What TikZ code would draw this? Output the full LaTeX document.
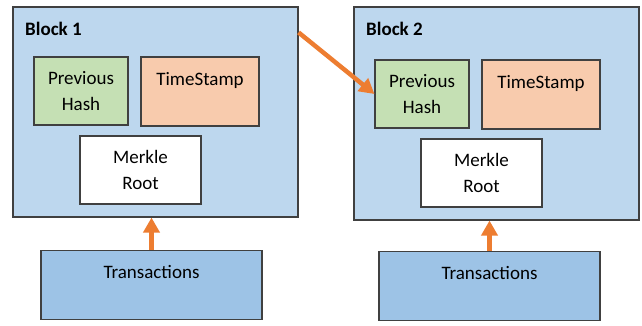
\documentclass[tikz,border=0pt]{standalone}
\usepackage{fontspec}
\setmainfont{Carlito}
\usetikzlibrary{arrows.meta}
\definecolor{blockblue}{HTML}{BDD7EE}
\definecolor{hashgreen}{HTML}{C5E0B4}
\definecolor{stampsalmon}{HTML}{F8CBAD}
\definecolor{txblue}{HTML}{9DC3E6}
\definecolor{linkorange}{HTML}{ED7D31}
\definecolor{edgegray}{HTML}{404040}
\begin{document}
\begin{tikzpicture}[x=1pt, y=-1pt,
box/.style={draw=edgegray, line width=1.1pt, align=center, inner sep=0pt, font=\fontsize{19}{26}\selectfont},
block/.style={box, fill=blockblue, minimum width=285pt},
prevhash/.style={box, fill=hashgreen, minimum width=94pt, minimum height=68pt},
stamp/.style={box, fill=stampsalmon, minimum width=118pt, minimum height=69pt},
merkle/.style={box, fill=white, minimum width=121pt, minimum height=68pt},
txbox/.style={box, fill=txblue, minimum width=221pt, minimum height=69pt},
title/.style={anchor=west, inner sep=0pt, font=\fontsize{19}{26}\selectfont\bfseries},
link/.style={draw=linkorange, line width=4.5pt, -{Triangle[length=15pt,width=16pt]}}
]
\useasboundingbox (0,0) rectangle (642,325);

% first block
\node[block, minimum height=210pt] (b1) at (155.5,112) {};
\node[title] (t1) at (25,29) {Block 1};
\node[prevhash] (p1) at (81,91) {Previous\\Hash};
\node[stamp] (s1) at (200,91.5) {TimeStamp\\\mbox{}};
\node[merkle] (m1) at (140.5,170) {Merkle\\Root};
\node[txbox] (x1) at (151.5,285) {Transactions\\\mbox{}};

% second block
\node[block, minimum height=213pt] (b2) at (496.5,113.5) {};
\node[title] (t2) at (366,29) {Block 2};
\node[prevhash] (p2) at (422,94) {Previous\\Hash};
\node[stamp] (s2) at (541,94.5) {TimeStamp\\\mbox{}};
\node[merkle] (m2) at (481.5,173) {Merkle\\Root};
\node[txbox] (x2) at (489.5,286) {Transactions\\\mbox{}};

\draw[link] (x1.north) -- (x1.north |- b1.south);
\draw[link] (x2.north) -- (x2.north |- b2.south);
\draw[link] ([yshift=-26pt]b1.north east) -- (p2.west);
\end{tikzpicture}
\end{document}
